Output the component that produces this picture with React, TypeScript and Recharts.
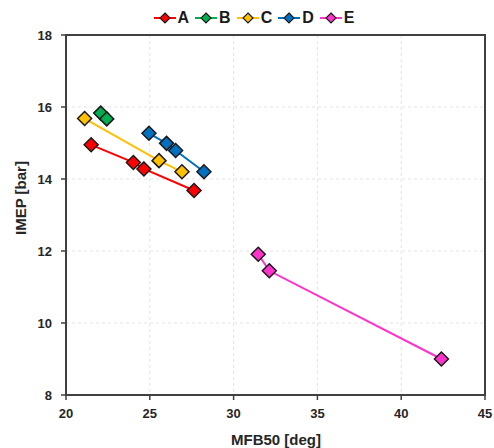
import React from "react";
import {
  ScatterChart,
  Scatter,
  XAxis,
  YAxis,
  CartesianGrid,
  ReferenceArea,
} from "recharts";

const seriesNames = ["A", "B", "C", "D", "E"];
const seriesColors = ["#FF0000", "#00B050", "#FFC000", "#0070C0", "#FF33CC"];

const mfbA = [21.5, 24.02, 24.65, 27.64];
const imepA = [14.95, 14.46, 14.28, 13.68];
const mfbB = [22.07, 22.43];
const imepB = [15.83, 15.67];
const mfbC = [21.11, 25.55, 26.92];
const imepC = [15.68, 14.51, 14.2];
const mfbD = [24.95, 26.0, 26.54, 28.23];
const imepD = [15.27, 14.99, 14.79, 14.2];
const mfbE = [31.47, 32.13, 42.4];
const imepE = [11.91, 11.45, 9.0];

const xTicks = [20, 25, 30, 35, 40, 45];
const yTicks = [8, 10, 12, 14, 16, 18];

const toPoints = (xs: number[], ys: number[]) =>
  xs.map((x, i) => ({ x, y: ys[i] }));

const seriesData = [
  toPoints(mfbA, imepA),
  toPoints(mfbB, imepB),
  toPoints(mfbC, imepC),
  toPoints(mfbD, imepD),
  toPoints(mfbE, imepE),
];

const FONT = "'Liberation Sans', Arial, sans-serif";
const AXIS_COLOR = "#404040";
const TEXT_COLOR = "#262626";

const diamond = (color: string, r: number) => (props: any) => {
  const { cx, cy } = props;
  if (cx == null || cy == null) return <g />;
  return (
    <path
      d={`M${cx},${cy - r}L${cx + r},${cy}L${cx},${cy + r}L${cx - r},${cy}Z`}
      fill={color}
      stroke="#1a1a1a"
      strokeWidth={1.5}
    />
  );
};

function LegendRow() {
  return (
    <div
      style={{
        position: "absolute",
        top: 9,
        left: 0,
        width: 494,
        display: "flex",
        justifyContent: "center",
        gap: 6,
        fontFamily: FONT,
        fontWeight: 700,
        fontSize: 16,
        color: "#1a1a1a",
        paddingLeft: 14,
        boxSizing: "border-box",
      }}
    >
      {seriesNames.map((name, i) => (
        <div key={name} style={{ display: "flex", alignItems: "center", gap: 2 }}>
          <svg width={22} height={14}>
            <line x1={0} y1={7} x2={22} y2={7} stroke={seriesColors[i]} strokeWidth={2} />
            <path
              d="M11,2L16,7L11,12L6,7Z"
              fill={seriesColors[i]}
              stroke="#1a1a1a"
              strokeWidth={1.2}
            />
          </svg>
          <span>{name}</span>
        </div>
      ))}
    </div>
  );
}

export default function App() {
  const tickStyle = { fontFamily: FONT, fontWeight: 700, fontSize: 13, fill: TEXT_COLOR };
  return (
    <div style={{ position: "relative", width: 494, height: 448, background: "#fff" }}>
      <style>{`body{margin:0}`}</style>
      <LegendRow />
      <ScatterChart
        width={494}
        height={448}
        margin={{ top: 35, right: 9, bottom: 0, left: 0 }}
      >
        <CartesianGrid stroke="#e3e3e3" strokeDasharray="3 3" />
        <XAxis
          type="number"
          dataKey="x"
          domain={[20, 45]}
          ticks={xTicks}
          allowDataOverflow
          height={53}
          tickSize={5}
          tickMargin={9}
          tick={tickStyle}
          axisLine={{ stroke: AXIS_COLOR, strokeWidth: 2 }}
          tickLine={{ stroke: AXIS_COLOR, strokeWidth: 1.5 }}
          label={{
            content: () => (
              <text
                x={276}
                y={445}
                textAnchor="middle"
                fontFamily={FONT}
                fontWeight={700}
                fontSize={15}
                fill={TEXT_COLOR}
              >
                MFB50 [deg]
              </text>
            ),
          }}
        />
        <YAxis
          type="number"
          dataKey="y"
          domain={[8, 18]}
          ticks={yTicks}
          allowDataOverflow
          width={66}
          tickSize={5}
          tickMargin={9}
          tick={tickStyle}
          axisLine={{ stroke: AXIS_COLOR, strokeWidth: 2 }}
          tickLine={{ stroke: AXIS_COLOR, strokeWidth: 1.5 }}
          label={{
            content: () => (
              <text
                x={26}
                y={198}
                transform="rotate(-90 26 198)"
                textAnchor="middle"
                fontFamily={FONT}
                fontWeight={700}
                fontSize={15}
                fill={TEXT_COLOR}
              >
                IMEP [bar]
              </text>
            ),
          }}
        />
        <ReferenceArea
          x1={20}
          x2={45}
          y1={8}
          y2={18}
          fill="none"
          stroke={AXIS_COLOR}
          strokeWidth={2}
          ifOverflow="visible"
        />
        {seriesData.map((pts, i) => (
          <Scatter
            key={seriesNames[i]}
            name={seriesNames[i]}
            data={pts}
            line={{ stroke: seriesColors[i], strokeWidth: 2 }}
            lineType="joint"
            shape={diamond(seriesColors[i], 7)}
            isAnimationActive={false}
          />
        ))}
      </ScatterChart>
    </div>
  );
}
